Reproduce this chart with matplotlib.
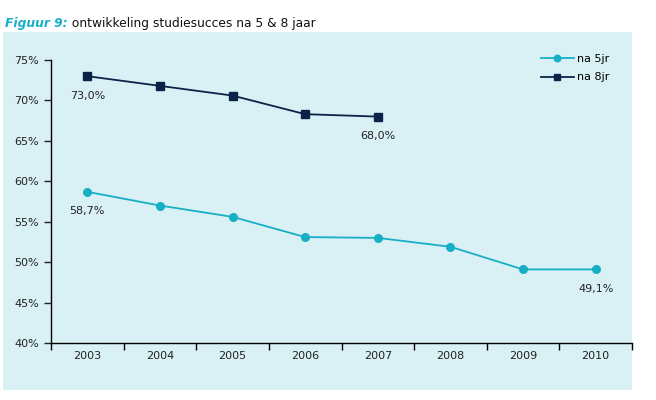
#!/usr/bin/env python3
"""Figuur 9: ontwikkeling studiesucces na 5 & 8 jaar."""

from matplotlib import pyplot as plt
from matplotlib.patches import Rectangle

years = ["2003", "2004", "2005", "2006", "2007", "2008", "2009", "2010"]
na_5jr = [58.7, 57.0, 55.6, 53.1, 53.0, 51.9, 49.1, 49.1]
na_8jr = [73.0, 71.8, 70.6, 68.3, 68.0]
yticks = [40, 45, 50, 55, 60, 65, 70, 75]

CYAN = "#17AFC6"
NAVY = "#0C2348"
PANEL = "#D9F1F5"

fig = plt.figure(figsize=(6.56, 4.0), dpi=100)
fig.patches.append(Rectangle((3 / 656, 10 / 400), 629 / 656, 358 / 400,
                             transform=fig.transFigure, facecolor=PANEL,
                             edgecolor="none", zorder=-10))

ax = fig.add_axes([51 / 656, 57 / 400, 581 / 656, 283 / 400])
ax.set_facecolor("none")

x5 = list(range(len(na_5jr)))
x8 = list(range(len(na_8jr)))
ax.plot(x5, na_5jr, color=CYAN, lw=1.3, marker="o", ms=5.5, label="na 5jr")
ax.plot(x8, na_8jr, color=NAVY, lw=1.3, marker="s", ms=5.5, label="na 8jr")

def fmt(v):
    return "{:.1f}%".format(v).replace(".", ",")

for xi, v in [(0, na_8jr[0]), (x8[-1], na_8jr[-1]), (0, na_5jr[0]), (x5[-1], na_5jr[-1])]:
    ax.annotate(fmt(v), (xi, v), xytext=(0, -14), textcoords="offset points",
                ha="center", va="center", fontsize=8, color="#222222")

ax.set_xlim(-0.5, len(years) - 0.5)
ax.set_ylim(40, 75)
ax.set_yticks(yticks)
ax.set_yticklabels(["{}%".format(t) for t in yticks])
ax.set_xticks(range(len(years)))
ax.set_xticklabels(years)
ax.set_xticks([i - 0.5 for i in range(len(years) + 1)], minor=True)
ax.tick_params(axis="x", which="major", length=0, pad=6)
ax.tick_params(axis="x", which="minor", length=5, width=1, direction="out")
ax.tick_params(axis="y", length=5, width=1, direction="out")
ax.tick_params(labelsize=8, colors="#222222")
for side in ["top", "right"]:
    ax.spines[side].set_visible(False)
for side in ["left", "bottom"]:
    ax.spines[side].set_linewidth(1)

ax.legend(loc="upper right", bbox_to_anchor=(0.979, 1.058), frameon=False,
          fontsize=8, handlelength=3, labelspacing=0.8, handletextpad=0.3,
          markerscale=0.85)

t1 = fig.text(5 / 656, 1 - 24 / 400, "Figuur 9:", fontsize=8.8, color=CYAN,
              fontweight="bold", fontstyle="italic", va="center")
fig.text(0, 0, " ontwikkeling studiesucces na 5 & 8 jaar", fontsize=8.8,
         color="#111111", va="center", transform=t1.get_transform())
fig.canvas.draw()
bb = t1.get_window_extent()
fig.texts[-1].set_position(((bb.x1 + 1) / fig.bbox.width, 1 - 24 / 400))

plt.savefig("out.png", dpi=100)
